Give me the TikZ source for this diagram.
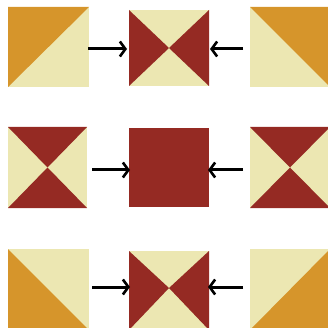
\documentclass[tikz,border=0pt]{standalone}
\usetikzlibrary{arrows.meta}
\definecolor{qorange}{HTML}{D6952B}
\definecolor{qcream}{HTML}{ECE7B2}
\definecolor{qred}{HTML}{952A23}
\tikzset{
  arr/.style={line width=3pt,-{Straight Barb[length=5.5pt,width=15pt,line width=2.6pt]}},
  fo/.style={fill=qorange},
  fc/.style={fill=qcream},
  fr/.style={fill=qred},
}
\begin{document}
\begin{tikzpicture}[x=1pt,y=-1pt]
\useasboundingbox (0,0) rectangle (327,328);
% ---------- row 1 ----------
% left square: orange upper-left
\fill[fc] (8,7) rectangle (89,87);
\fill[fo] (8,7) -- (89,7) -- (8,87) -- cycle;
% middle: cream top/bottom, red left/right
\fill[fc] (129,10) rectangle (209,86);
\fill[fr] (129,10) -- (169,48) -- (129,86) -- cycle;
\fill[fr] (209,10) -- (169,48) -- (209,86) -- cycle;
% right square: orange upper-right
\fill[fc] (250,7) rectangle (330,87);
\fill[fo] (250,7) -- (330,7) -- (330,87) -- cycle;
\coordinate (a1) at (88,49);
\coordinate (b1) at (127,49);
\coordinate (c1) at (243,49);
\coordinate (d1) at (210,49);
\draw[arr] (a1) -- (b1);
\draw[arr] (c1) -- (d1);
% ---------- row 2 ----------
\fill[fc] (8,127) rectangle (87,208);
\fill[fr] (8,127) -- (87,127) -- (47.5,167.5) -- cycle;
\fill[fr] (8,208) -- (87,208) -- (47.5,167.5) -- cycle;
\fill[fr] (129,128) rectangle (209,207);
\fill[fc] (250,127) rectangle (330,208);
\fill[fr] (250,127) -- (330,127) -- (290,167.5) -- cycle;
\fill[fr] (250,208) -- (330,208) -- (290,167.5) -- cycle;
\coordinate (a2) at (92,170);
\coordinate (b2) at (130,170);
\coordinate (c2) at (243,170);
\coordinate (d2) at (208,170);
\draw[arr] (a2) -- (b2);
\draw[arr] (c2) -- (d2);
% ---------- row 3 ----------
\fill[fc] (8,249) rectangle (89,330);
\fill[fo] (8,249) -- (89,330) -- (8,330) -- cycle;
\fill[fc] (129,251) rectangle (209,330);
\fill[fr] (129,251) -- (169,288) -- (129,330) -- cycle;
\fill[fr] (209,251) -- (169,288) -- (209,330) -- cycle;
\fill[fc] (250,249) rectangle (330,330);
\fill[fo] (250,330) -- (330,249) -- (330,330) -- cycle;
\coordinate (a3) at (92,287);
\coordinate (b3) at (130,287);
\coordinate (c3) at (243,287);
\coordinate (d3) at (208,287);
\draw[arr] (a3) -- (b3);
\draw[arr] (c3) -- (d3);
\end{tikzpicture}
\end{document}
